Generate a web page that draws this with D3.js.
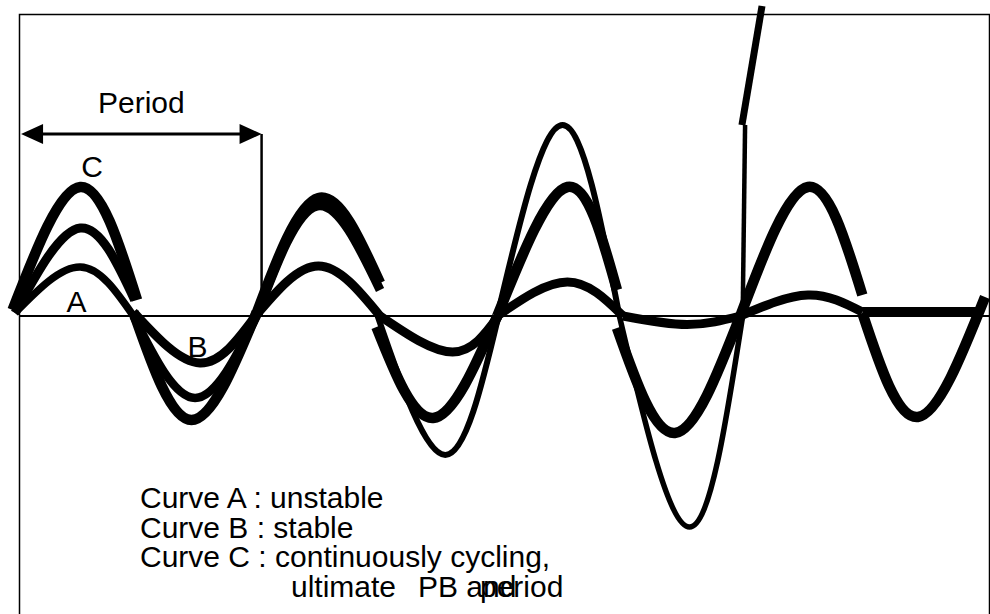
<!DOCTYPE html>
<html>
<head>
<meta charset="utf-8">
<script src="https://cdn.jsdelivr.net/npm/d3@7/dist/d3.min.js"></script>
<style>
  html, body { margin: 0; padding: 0; background: #fff; overflow: hidden; }
  svg { display: block; }
  text { font-family: "Liberation Sans", Arial, Helvetica, sans-serif; fill: #000; }
</style>
</head>
<body>
<svg id="chart" width="990" height="614"></svg>
<script>
// Closed-loop responses to a set-point change.
// Time is measured in half-periods of the ultimate cycle, the response as deviation from the set point.
// Every curve is made of separately drawn half-wave strokes: [start, extremum, end] points.

// Curve A: unstable (growing oscillation that finally runs away)
const curveA = [
  [[0.00, 0.3], [0.54, 4.9], [0.98, 0.0]],
  [[0.98, 0.0], [1.49, -8.2], [2.00, 0.0]],
  [[2.00, 0.0], [2.50, 11.0], [3.02, 2.6]],
  [[3.00, 0.0], [3.56, -13.9], [4.00, 0.0]],
  [[3.99, 0.0], [4.53, 19.1], [5.00, 0.0]],
  [[5.00, 0.0], [5.58, -21.1], [6.02, 0.0]],
  [[6.02, 0.0], [6.04, 19.1]],
  [[6.014, 19.1], [6.18, 31.0]]
];

// Curve B: stable (decaying oscillation, settles on the set point)
const curveB = [
  [[0.00, 0.3], [0.54, 8.8], [0.99, 1.6]],
  [[0.98, 0.4], [1.53, -4.7], [1.99, 0.0]],
  [[1.99, 0.0], [2.51, 5.0], [3.02, 0.0]],
  [[3.02, 0.0], [3.62, -3.6], [4.00, 0.0]],
  [[3.99, 0.0], [4.57, 3.4], [5.03, 0.0]],
  [[5.03, 0.0], [5.56, -0.85], [6.00, 0.0]],
  [[6.00, 0.0], [6.56, 2.1], [7.01, 0.4]],
  [[7.01, 0.45], [7.95, 0.45]]
];

// Curve C: continuously cycling at the ultimate gain
const curveC = [
  [[-0.02, 0.6], [0.54, 12.9], [1.01, 1.6]],
  [[0.98, 0.4], [1.46, -10.4], [2.00, 0.4]],
  [[1.99, 0.0], [2.51, 11.8], [3.02, 3.3]],
  [[2.99, -1.1], [3.46, -10.2], [3.99, 0.0]],
  [[3.99, 0.0], [4.57, 12.9], [4.98, 2.6]],
  [[4.98, -1.2], [5.46, -11.7], [6.00, 0.0]],
  [[6.00, 0.0], [6.56, 12.9], [7.01, 2.1]],
  [[7.01, 0.3], [7.47, -10.1], [8.025, 1.9]]
];

// One full period of curve C, marked with a double arrow
const periodSpan = [0.05, 2.04];
const periodLevel = 18.2;
const periodLabel = "Period";

const curveNames = ["A", "B", "C"];
const legendLines = [
  "Curve A : unstable",
  "Curve B : stable",
  "Curve C : continuously cycling,"
];
const legendLastLine = ["ultimate", "PB and", "period"];

// ---- scales ----
const x = d3.scaleLinear().domain([0, 8]).range([15, 982]);
const y = d3.scaleLinear().domain([-30, 30]).range([616, 16]);

const svg = d3.select("#chart");

// frame (its bottom edge lies below the visible area)
svg.append("rect")
  .attr("x", 19.5).attr("y", 14.5)
  .attr("width", 970).attr("height", 700)
  .attr("fill", "none").attr("stroke", "#000").attr("stroke-width", 1.5);

// set-point line
svg.append("line")
  .attr("x1", 19.5).attr("x2", 989.5)
  .attr("y1", y(0)).attr("y2", y(0))
  .attr("stroke", "#000").attr("stroke-width", 2);

// period marker
const pY = y(periodLevel);
const pX0 = x(periodSpan[0]), pX1 = x(periodSpan[1]);
svg.append("line")
  .attr("x1", pX0 + 10).attr("x2", pX1 - 10)
  .attr("y1", pY).attr("y2", pY)
  .attr("stroke", "#000").attr("stroke-width", 3);
svg.append("line")
  .attr("x1", pX1).attr("x2", pX1)
  .attr("y1", pY).attr("y2", y(0))
  .attr("stroke", "#000").attr("stroke-width", 2.5);
const head = 22, half = 10;
svg.append("path")
  .attr("d", `M${pX0},${pY} L${pX0 + head},${pY - half} L${pX0 + head},${pY + half} Z`)
  .attr("fill", "#000");
svg.append("path")
  .attr("d", `M${pX1},${pY} L${pX1 - head},${pY - half} L${pX1 - head},${pY + half} Z`)
  .attr("fill", "#000");
svg.append("text")
  .attr("x", (pX0 + pX1) / 2 + 0).attr("y", 113)
  .attr("text-anchor", "middle")
  .attr("font-size", 30)
  .text(periodLabel);

// ---- curves ----
const line = d3.line()
  .x(d => x(d[0]))
  .y(d => y(d[1]))
  .curve(d3.curveNatural);

const strokeA = [7.5, 8.5, 9, 6, 6, 5.5, 4.5, 7];
const series = [
  { pieces: curveC, width: () => 10.5 },
  { pieces: curveB, width: () => 9 },
  { pieces: curveA, width: i => strokeA[i] }
];

series.forEach(s => {
  svg.append("g")
    .selectAll("path")
    .data(s.pieces)
    .join("path")
    .attr("d", line)
    .attr("fill", "none")
    .attr("stroke", "#000")
    .attr("stroke-width", (d, i) => s.width(i))
    .attr("stroke-linecap", "butt")
    .attr("stroke-linejoin", "round");
});

// curve names next to their first half-waves
const namePos = { A: [76.5, 312], B: [197.5, 357], C: [92, 177] };
svg.append("g")
  .selectAll("text")
  .data(curveNames)
  .join("text")
  .attr("x", d => namePos[d][0])
  .attr("y", d => namePos[d][1])
  .attr("text-anchor", "middle")
  .attr("font-size", 30)
  .text(d => d);

// ---- legend ----
const legendX = 140, legendY0 = 508, legendStep = 29.5;
svg.append("g")
  .selectAll("text")
  .data(legendLines)
  .join("text")
  .attr("x", legendX)
  .attr("y", (d, i) => legendY0 + i * legendStep)
  .attr("font-size", 30)
  .text(d => d);

const lastY = legendY0 + 3 * legendStep;
const lastX = [291, 418, 480];
svg.append("g")
  .selectAll("text")
  .data(legendLastLine)
  .join("text")
  .attr("x", (d, i) => lastX[i])
  .attr("y", lastY)
  .attr("font-size", 30)
  .text(d => d);
</script>
</body>
</html>
